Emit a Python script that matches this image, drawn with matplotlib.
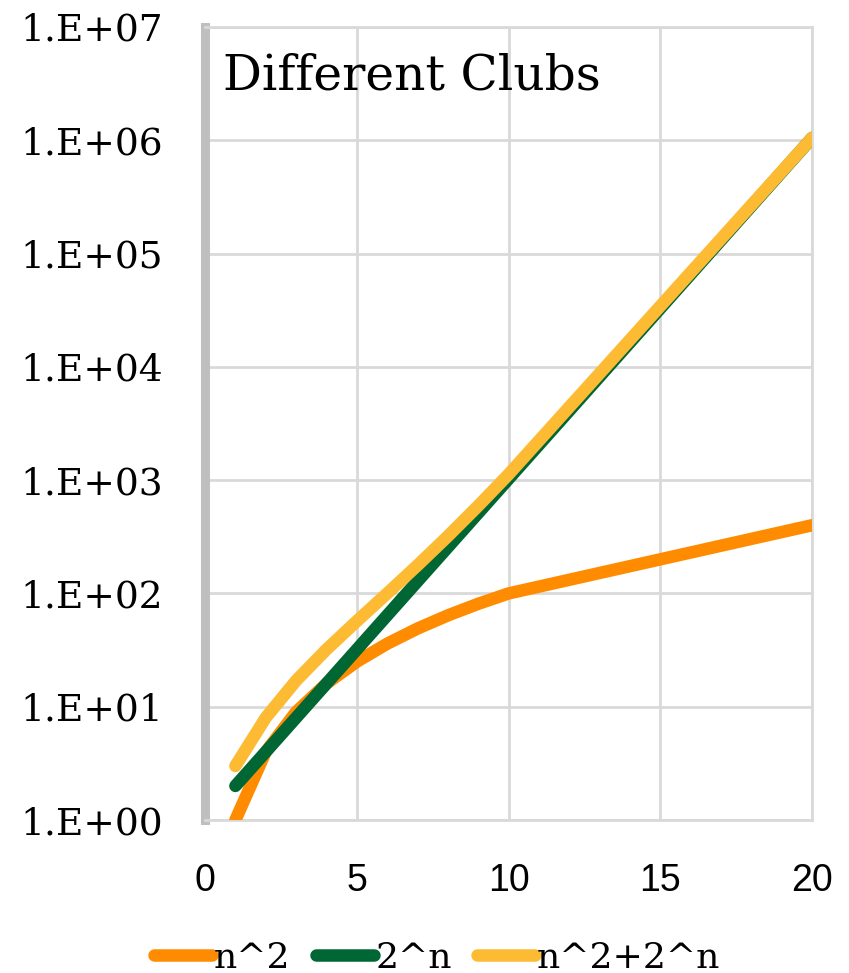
#!/usr/bin/env python3
"""plot.py — growth of n^2, 2^n and their sum on a log scale."""

import matplotlib
matplotlib.use("Agg")
import matplotlib.pyplot as plt
from matplotlib.ticker import FixedLocator

n = [1, 2, 3, 4, 5, 6, 7, 8, 9, 10, 20]
n_squared = [1, 4, 9, 16, 25, 36, 49, 64, 81, 100, 400]
two_pow_n = [2, 4, 8, 16, 32, 64, 128, 256, 512, 1024, 1048576]
combined = [3, 8, 17, 32, 57, 100, 177, 320, 593, 1124, 1048976]

series = [
    ("n^2", n_squared, "#FF8C00"),
    ("2^n", two_pow_n, "#006633"),
    ("n^2+2^n", combined, "#FDBB33"),
]

y_ticks = [1e0, 1e1, 1e2, 1e3, 1e4, 1e5, 1e6, 1e7]
y_tick_labels = ["1.E+00", "1.E+01", "1.E+02", "1.E+03",
                 "1.E+04", "1.E+05", "1.E+06", "1.E+07"]
x_ticks = [0, 5, 10, 15, 20]

TITLE = "Different Clubs"


def main() -> None:
    fig = plt.figure(figsize=(8.49, 9.73), dpi=100)
    ax = fig.add_axes([0.2415, 0.1572, 0.7150, 0.8151])

    for label, values, color in series:
        ax.plot(n, values, color=color, lw=9, solid_capstyle="round",
                solid_joinstyle="round", label=label, zorder=3)

    ax.set_yscale("log")
    ax.set_ylim(1, 1e7)
    ax.set_xlim(0, 20)
    ax.yaxis.set_major_locator(FixedLocator(y_ticks))
    ax.yaxis.set_minor_locator(FixedLocator([]))
    ax.set_yticks(y_ticks)
    ax.set_yticklabels(y_tick_labels, family="DejaVu Serif", fontsize=27)
    ax.set_xticks(x_ticks)
    ax.set_xticklabels([str(v) for v in x_ticks], family="Liberation Sans",
                       fontsize=27)
    ax.tick_params(length=0)
    ax.tick_params(axis="y", pad=30)
    ax.tick_params(axis="x", pad=31)

    ax.grid(True, color="#D9D9D9", lw=2, zorder=0)
    for side in ("top", "right", "bottom"):
        ax.spines[side].set_color("#D9D9D9")
        ax.spines[side].set_linewidth(2)
    ax.spines["left"].set_color("#BFBFBF")
    ax.spines["left"].set_linewidth(6.5)

    ax.text(0.03, 0.968, TITLE, transform=ax.transAxes, ha="left", va="top",
            family="DejaVu Serif", fontsize=35)

    fig.legend(loc="lower center", bbox_to_anchor=(0.515, -0.035), ncol=3,
               frameon=False, handlelength=1.6, handletextpad=0.05,
               columnspacing=0.7,
               prop={"family": "DejaVu Serif", "size": 26})

    fig.savefig("out.png", dpi=100)


if __name__ == "__main__":
    main()
